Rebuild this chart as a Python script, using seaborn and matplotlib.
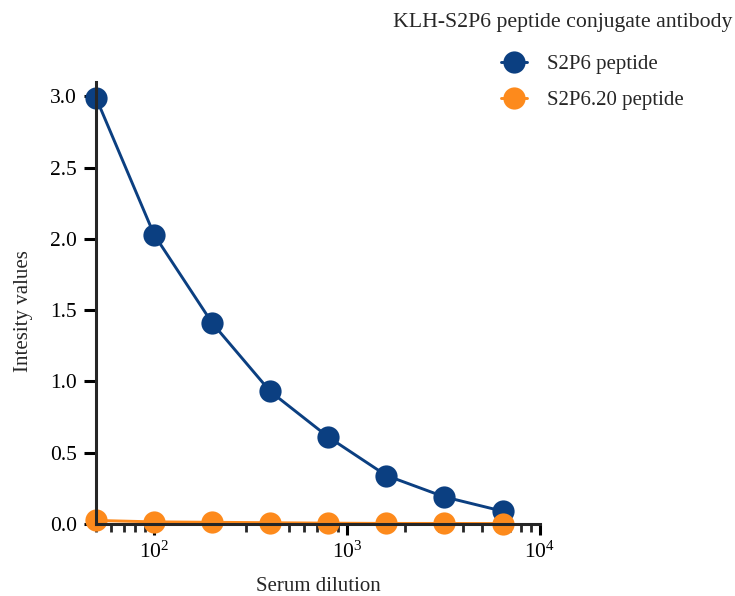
import matplotlib
matplotlib.use('Agg')
import matplotlib.pyplot as plt
import matplotlib.ticker as mticker
import pandas as pd
import seaborn as sns

# Serum dilution series and measured intensities
dilutions = [50, 100, 200, 400, 800, 1600, 3200, 6400]
s2p6 = [2.99, 2.03, 1.41, 0.93, 0.61, 0.34, 0.19, 0.09]
s2p6_20 = [0.025, 0.015, 0.012, 0.009, 0.006, 0.004, 0.004, 0.003]
series_names = ['S2P6 peptide', 'S2P6.20 peptide']
colors = ['#0b3f81', '#fd8a1c']

df = pd.DataFrame({
    'dilution': dilutions * 2,
    'value': s2p6 + s2p6_20,
    'series': [series_names[0]] * len(dilutions) + [series_names[1]] * len(dilutions),
})

sns.set_style('ticks')
plt.rcParams['font.family'] = ['Liberation Serif', 'DejaVu Serif']
plt.rcParams['mathtext.fontset'] = 'stix'

fig = plt.figure(figsize=(7.35, 5.96), dpi=100)
ax = fig.add_axes([0.1306, 0.1208, 0.604, 0.7416])

sns.lineplot(data=df, x='dilution', y='value', hue='series', palette=colors,
             marker='o', markersize=16, markeredgewidth=0, linewidth=2.1,
             ax=ax, legend=False)
for line in ax.lines:
    line.set_clip_on(False)

ax.set_xscale('log')
ax.set_xlim(50, 1e4)
ax.set_ylim(0, 3.1)
ax.set_yticks([0, 0.5, 1.0, 1.5, 2.0, 2.5, 3.0])
ax.yaxis.set_major_formatter(mticker.FormatStrFormatter('%.1f'))
ax.xaxis.set_major_locator(mticker.LogLocator(base=10, numticks=10))
ax.xaxis.set_minor_locator(mticker.LogLocator(base=10, subs=range(2, 10), numticks=20))
ax.xaxis.set_minor_formatter(mticker.NullFormatter())

for side in ['top', 'right']:
    ax.spines[side].set_visible(False)
for side in ['left', 'bottom']:
    ax.spines[side].set_linewidth(2.2)
ax.tick_params(axis='both', which='major', direction='out', length=8.5, width=2.2,
               labelsize=15.5, colors='black', pad=5)
ax.tick_params(axis='x', which='major', length=8)
ax.tick_params(axis='x', which='minor', direction='out', length=5.5, width=2)

ax.set_xlabel('Serum dilution', fontsize=15, labelpad=10)
ax.set_ylabel('Intesity values', fontsize=15)
ax.yaxis.set_label_coords(-0.141, 0.482)

fig.text(0.997, 0.963, 'KLH-S2P6 peptide conjugate antibody', ha='right', va='center',
         fontsize=15.7)
handles = [plt.Line2D([], [], color=c, marker='o', markersize=16, markeredgewidth=0,
                      linewidth=2.1) for c in colors]
fig.legend(handles, series_names, loc='upper left', bbox_to_anchor=(0.682, 0.909),
           frameon=False, borderpad=0, borderaxespad=0, fontsize=15,
           handlelength=1.25, handletextpad=0.95, labelspacing=0.82)

fig.savefig('out.png', dpi=100)
